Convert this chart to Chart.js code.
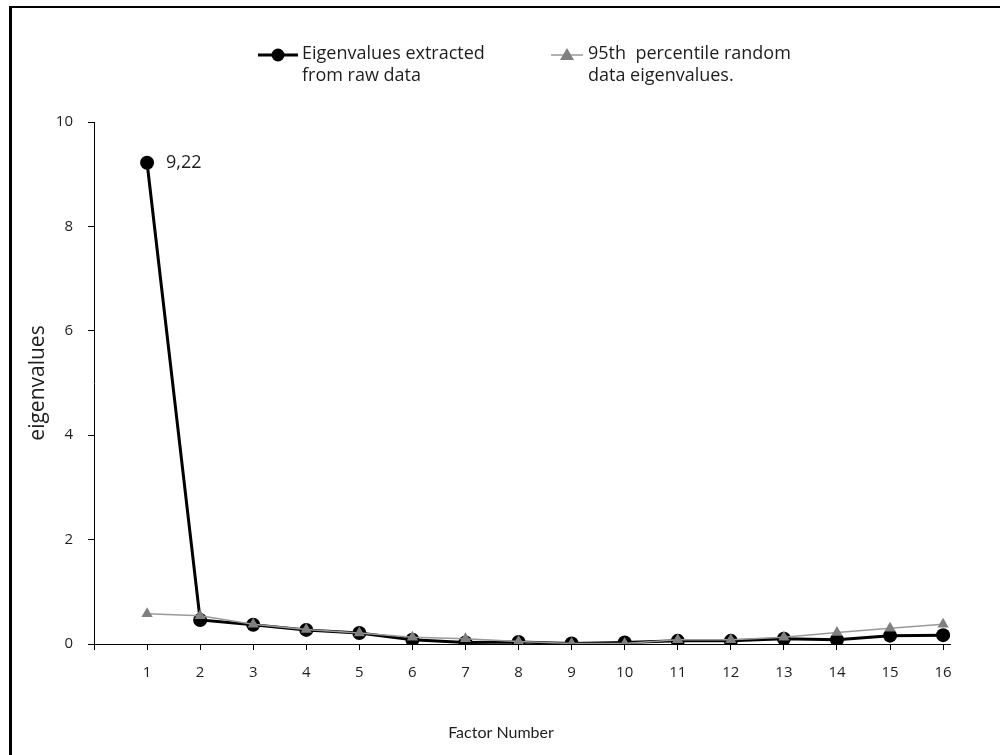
<!DOCTYPE html>
<html>
<head>
<meta charset="utf-8">
<script src="https://cdn.jsdelivr.net/npm/chart.js@4"></script>
<style>
  html, body { margin: 0; padding: 0; background: #fff; }
  #wrap { position: relative; width: 1000px; height: 755px; }
  #frame { position: absolute; left: 9px; top: 6px; right: 0; bottom: 0;
           border-top: 2px solid #000; border-left: 3px solid #000; pointer-events: none; }
</style>
</head>
<body>
<div id="wrap">
  <canvas id="chart_scree" width="1000" height="755"></canvas>
  <div id="frame"></div>
</div>
<script>
// values
const factors = [1, 2, 3, 4, 5, 6, 7, 8, 9, 10, 11, 12, 13, 14, 15, 16];
const rawEigen = [9.22, 0.46, 0.37, 0.27, 0.21, 0.08, 0.03, 0.04, 0.01, 0.03, 0.06, 0.06, 0.10, 0.08, 0.16, 0.17];
const randomEigen = [0.58, 0.54, 0.38, 0.28, 0.21, 0.13, 0.10, 0.05, 0.01, 0.01, 0.08, 0.08, 0.13, 0.22, 0.30, 0.38];
const rawLabel = ['Eigenvalues extracted', 'from raw data'];
const randomLabel = ['95th  percentile random', 'data eigenvalues.'];
const xTitle = 'Factor Number';
const yTitle = 'eigenvalues';

const FONT = 'Open Sans';
const TEXT = '#1e1e1e';

// legend + data label + x title, drawn by hand (two line legend entries)
const screeDecor = {
    id: 'screeDecor',
    afterDraw(chart) {
        const ctx = chart.ctx;
        ctx.save();
        ctx.font = '18px "' + FONT + '"';
        ctx.fillStyle = TEXT;
        ctx.textBaseline = 'middle';

        // legend entry 1
        ctx.strokeStyle = '#000';
        ctx.lineWidth = 3;
        ctx.beginPath(); ctx.moveTo(258, 55); ctx.lineTo(298, 55); ctx.stroke();
        ctx.fillStyle = '#000';
        ctx.beginPath(); ctx.arc(278, 55, 6.5, 0, Math.PI * 2); ctx.fill();
        ctx.fillStyle = TEXT;
        rawLabel.forEach((t, i) => ctx.fillText(t, 302, 54 + i * 22));

        // legend entry 2
        ctx.strokeStyle = '#999';
        ctx.lineWidth = 1.5;
        ctx.beginPath(); ctx.moveTo(551, 55); ctx.lineTo(583, 55); ctx.stroke();
        ctx.fillStyle = '#808080';
        ctx.beginPath(); ctx.moveTo(567, 48); ctx.lineTo(574, 60); ctx.lineTo(560, 60); ctx.closePath(); ctx.fill();
        ctx.fillStyle = TEXT;
        randomLabel.forEach((t, i) => ctx.fillText(t, 588, 54 + i * 22));

        // value label at first point
        const meta = chart.getDatasetMeta(1);
        const p = meta.data[0];
        ctx.fillText(rawEigen[0].toFixed(2).replace('.', ','), p.x + 19, p.y);

        // x title
        ctx.font = '16px Lato';
        ctx.textAlign = 'center';
        ctx.fillText(xTitle, 501, 733);
        ctx.restore();
    }
};

document.chartScree = new Chart(document.getElementById('chart_scree'), {
    type: 'line',
    data: {
        datasets: [
            {
                label: randomLabel.join(' '),
                data: factors.map((f, i) => ({ x: f, y: randomEigen[i] })),
                borderColor: '#9a9a9a', backgroundColor: '#808080',
                borderWidth: 1.5, pointStyle: 'triangle', pointRadius: 6.5,
                pointBorderWidth: 0, order: 0
            },
            {
                label: rawLabel.join(' '),
                data: factors.map((f, i) => ({ x: f, y: rawEigen[i] })),
                borderColor: '#000', backgroundColor: '#000',
                borderWidth: 3, pointStyle: 'circle', pointRadius: 7,
                pointBorderWidth: 0, order: 1
            }
        ]
    },
    options: {
        responsive: false,
        animation: false,
        layout: { padding: { left: 0, top: 122, right: 50, bottom: 0 } },
        scales: {
            x: {
                type: 'linear',
                min: 0,
                max: 16.13,
                afterFit: (s) => { s.height = 111; },
                border: { display: true, color: '#000', width: 1 },
                grid: { display: true, drawOnChartArea: false, drawTicks: true, tickLength: 6, color: '#000' },
                ticks: {
                    stepSize: 1,
                    includeBounds: false,
                    padding: 14,
                    color: TEXT,
                    font: { family: FONT, size: 15 },
                    maxRotation: 0,
                    callback: (value) => value === 0 ? '' : value
                }
            },
            y: {
                min: 0,
                max: 10,
                afterFit: (s) => { s.width = 94; },
                border: { display: true, color: '#000', width: 1 },
                grid: { display: true, drawOnChartArea: false, drawTicks: true, tickLength: 6, color: '#000' },
                ticks: {
                    stepSize: 2,
                    padding: 15,
                    color: TEXT,
                    font: { family: FONT, size: 15 }
                },
                title: {
                    display: true,
                    text: yTitle,
                    color: TEXT,
                    font: { family: FONT, size: 21 },
                    padding: { top: 25, bottom: 0 }
                }
            }
        },
        plugins: {
            legend: { display: false },
            tooltip: { enabled: false }
        }
    },
    plugins: [screeDecor]
});
</script>
</body>
</html>
